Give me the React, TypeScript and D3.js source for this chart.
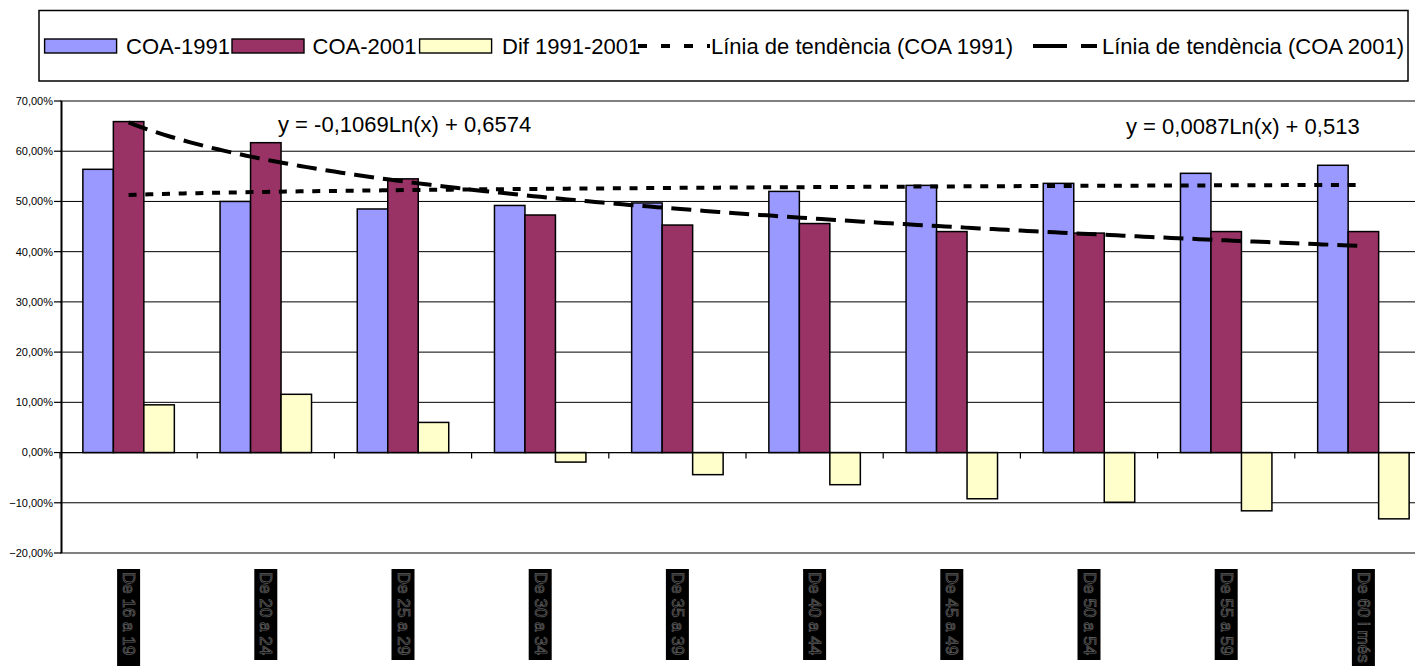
import React, { useEffect } from "react";
import * as d3 from "d3";

// ---------- data ----------
const categories = [
  "De 16 a 19",
  "De 20 a 24",
  "De 25 a 29",
  "De 30 a 34",
  "De 35 a 39",
  "De 40 a 44",
  "De 45 a 49",
  "De 50 a 54",
  "De 55 a 59",
  "De 60 i més",
];
const coa1991 = [0.564, 0.5, 0.485, 0.492, 0.497, 0.52, 0.532, 0.536, 0.556, 0.572];
const coa2001 = [0.659, 0.617, 0.545, 0.473, 0.453, 0.456, 0.44, 0.437, 0.44, 0.44];
const dif = [0.095, 0.116, 0.06, -0.019, -0.044, -0.064, -0.092, -0.099, -0.116, -0.132];
const yTicks = [-0.2, -0.1, 0, 0.1, 0.2, 0.3, 0.4, 0.5, 0.6, 0.7];
const seriesNames = ["COA-1991", "COA-2001", "Dif 1991-2001"];
const trendNames = ["Línia de tendència (COA 1991)", "Línia de tendència (COA 2001)"];
const trend1991 = { slope: 0.0087, intercept: 0.513 };
const trend2001 = { slope: -0.1069, intercept: 0.6574 };
const equations = ["y = -0,1069Ln(x) + 0,6574", "y = 0,0087Ln(x) + 0,513"];

// ---------- style ----------
const W = 1415;
const H = 666;
const FONT = "'Liberation Sans', Arial, Helvetica, sans-serif";
const colors = ["#9999FF", "#993366", "#FFFFCC"];

const plot = { left: 60, right: 1432, top: 101, bottom: 553 };

export default function App() {
  useEffect(() => {
    document.body.style.margin = "0";
  }, []);

  const x0 = d3.scaleBand<string>().domain(categories).range([plot.left, plot.right]).padding(0);
  const x1 = d3
    .scaleBand<string>()
    .domain(seriesNames)
    .range([0, x0.bandwidth()])
    .paddingInner(0)
    .paddingOuter(0.75);
  const y = d3.scaleLinear().domain([-0.2, 0.7]).range([plot.bottom, plot.top]);
  const fmt = (v: number) => d3.format(".2f")(v * 100).replace(".", ",") + "%";

  const series = [coa1991, coa2001, dif];
  const cx = (i: number) => (x0(categories[i]) as number) + x0.bandwidth() / 2;
  const xPos = (t: number) => cx(0) + (t - 1) * x0.step();

  const samples = d3.range(1, 10.0001, 0.05);
  const line = d3
    .line<number[]>()
    .x((d) => d[0])
    .y((d) => d[1]);
  const trendPath = (tr: { slope: number; intercept: number }) =>
    line(samples.map((t) => [xPos(t), y(tr.slope * Math.log(t) + tr.intercept)])) as string;

  const y0 = y(0);

  // legend layout
  const legY = 46;
  const swatchX = [44.6, 232, 419.6, 638, 1033];
  const textX = [126, 312.5, 502, 711, 1102];

  return (
    <svg width={W} height={H} style={{ display: "block", background: "#fff" }} fontFamily={FONT}>
      {/* Legend */}
      <rect x={39} y={10.5} width={1369} height={70.5} fill="#fff" stroke="#000" strokeWidth={1.5} />
      {seriesNames.map((n, i) => (
        <g key={n}>
          <rect x={swatchX[i]} y={legY - 7} width={72} height={14} fill={colors[i]} stroke="#000" strokeWidth={1.4} />
          <text x={textX[i]} y={legY} dy="0.36em" fontSize={22} fill="#000">
            {n}
          </text>
        </g>
      ))}
      <line x1={swatchX[3]} x2={swatchX[3] + 72} y1={legY} y2={legY} stroke="#000" strokeWidth={4} strokeDasharray="9,14" />
      <text x={textX[3]} y={legY} dy="0.36em" fontSize={22} fill="#000">
        {trendNames[0]}
      </text>
      <line x1={swatchX[4]} x2={swatchX[4] + 64} y1={legY} y2={legY} stroke="#000" strokeWidth={4} strokeDasharray="34,14" />
      <text x={textX[4]} y={legY} dy="0.36em" fontSize={22} fill="#000">
        {trendNames[1]}
      </text>

      {/* gridlines */}
      {yTicks.map((t) => {
        const edge = t === -0.2 || t === 0.7;
        return (
          <line
            key={t}
            x1={plot.left}
            x2={plot.right}
            y1={y(t)}
            y2={y(t)}
            stroke={edge ? "#808080" : "#000"}
            strokeWidth={edge ? 2 : 1}
          />
        );
      })}

      {/* bars */}
      {categories.map((c, i) => (
        <g key={c}>
          {series.map((s, k) => {
            const v = s[i];
            const bx = (x0(c) as number) + (x1(seriesNames[k]) as number);
            const top = y(Math.max(0, v));
            const h = Math.abs(y(v) - y0);
            return (
              <rect key={k} x={bx} y={top} width={x1.bandwidth()} height={h} fill={colors[k]} stroke="#000" strokeWidth={1.5} />
            );
          })}
        </g>
      ))}

      {/* y axis */}
      <line x1={61.5} x2={61.5} y1={plot.top} y2={plot.bottom} stroke="#000" strokeWidth={2} />
      {yTicks.map((t) => (
        <g key={t}>
          <line x1={54} x2={61.5} y1={y(t)} y2={y(t)} stroke="#000" strokeWidth={1.2} />
          <text x={53} y={y(t)} dy="0.35em" textAnchor="end" fontSize={11} fill="#000">
            {fmt(t)}
          </text>
        </g>
      ))}

      {/* x axis at 0 */}
      <line x1={plot.left} x2={plot.right} y1={y0} y2={y0} stroke="#000" strokeWidth={1.2} />
      {categories.map((c) => (
        <line key={c} x1={x0(c) as number} x2={x0(c) as number} y1={y0} y2={y0 + 6} stroke="#000" strokeWidth={1.2} />
      ))}

      {/* trend lines */}
      <path d={trendPath(trend1991)} fill="none" stroke="#000" strokeWidth={4} strokeDasharray="8,8.7" />
      <path d={trendPath(trend2001)} fill="none" stroke="#000" strokeWidth={4} strokeDasharray="20,9" />

      {/* equations */}
      <text x={278} y={131.5} fontSize={22} fill="#000">
        {equations[0]}
      </text>
      <text x={1126} y={134} fontSize={22} fill="#000">
        {equations[1]}
      </text>

      {/* category labels (rotated, boxed) */}
      {categories.map((c, i) => {
        const edge = i === 0 || i === categories.length - 1;
        const len = edge ? H - 569 : 91;
        return (
          <g key={c}>
            <rect x={cx(i) - 11.5} y={569} width={23} height={len} fill="#000" />
            <text
              transform={`translate(${cx(i)},${572}) rotate(90)`}
              dominantBaseline="central"
              fontSize={17}
              fill="#000"
              stroke="#5a5a5a"
              strokeWidth={0.8}
            >
              {c}
            </text>
          </g>
        );
      })}
    </svg>
  );
}
